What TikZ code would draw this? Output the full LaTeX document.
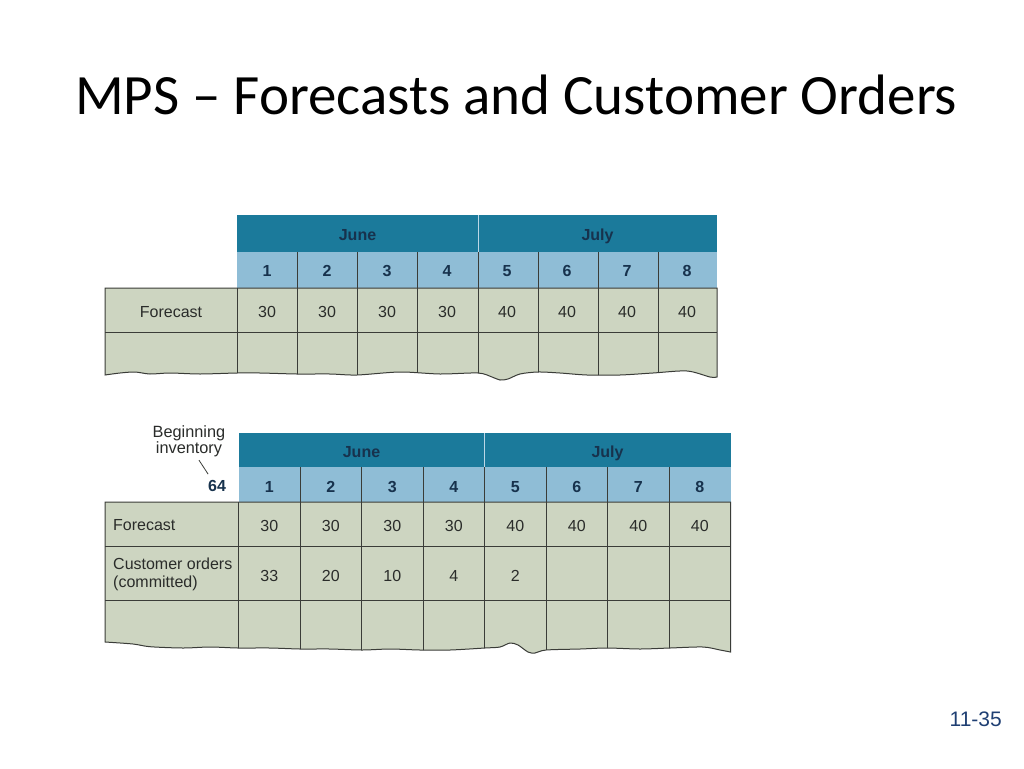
\documentclass[tikz,border=0pt]{standalone}
\usepackage{fontspec}
\setmainfont{Carlito}
\newfontfamily\tabfont{Liberation Sans}
\usepackage{tikz}
\usetikzlibrary{positioning,calc}
\definecolor{monthblue}{HTML}{1B7A9B}
\definecolor{weekblue}{HTML}{8FBDD6}
\definecolor{bodygreen}{HTML}{CDD5C1}
\definecolor{gridgrey}{HTML}{3A3C38}
\definecolor{headtext}{HTML}{17324D}
\definecolor{celltext}{HTML}{2A2C2A}
\definecolor{slideblue}{HTML}{1F3F73}
\tikzstyle{title} = [inner sep=0pt, font=\fontsize{57}{64}\selectfont, text=black]
\tikzstyle{cell} = [inner sep=0pt, text height=11.5pt, text depth=0pt, font=\tabfont\fontsize{16}{18}\selectfont, text=celltext]
\tikzstyle{head cell} = [cell, font=\tabfont\bfseries\fontsize{16}{18}\selectfont, text=headtext]
\tikzstyle{row label} = [inner sep=0pt, anchor=west, align=left, text=celltext, font=\tabfont\fontsize{16}{17.5}\selectfont]
\tikzstyle{grid} = [draw=gridgrey, line width=1pt]
\tikzstyle{leader} = [draw=gridgrey, line width=0.8pt]
\tikzstyle{pagenum} = [inner sep=0pt, font=\tabfont\fontsize{21}{24}\selectfont, text=slideblue]
% torn lower edges of the two sheets
\tikzset{tornA/.style={insert path={-- plot[smooth] coordinates {(717,377) (710,377) (687,371) (653,373) (620,375) (587,375) (560,373) (538,372) (520,374) (508,379) (500,380) (492,377) (478,373) (440,374) (400,372) (357,375) (330,374) (297,374) (260,373) (237,373) (200,374) (170,373) (150,374) (135,372) (120,373) (105,375)}}}}
\tikzset{tornB/.style={insert path={-- plot[smooth] coordinates {(730.5,652) (720,650) (703,647) (670,648) (640,649) (607,648) (580,649) (546,650) (535,653) (528,652) (518,645) (510,643) (500,647) (485,648) (450,650) (420,650) (390,649) (362,650) (330,649) (300,649) (270,648) (238,648) (210,647) (183,648) (150,646.7) (133,644) (105,642)}}}}
\begin{document}
\begin{tikzpicture}[x=1pt, y=-1pt]
	\useasboundingbox[fill=white] (0,0) rectangle (1024,768);
	\node[title, anchor=base west] (heading) at (75,114) {MPS – Forecasts and Customer Orders};

	% forecast only
	\fill[monthblue] (237,215) rectangle (717,252);
	\fill[weekblue] (237,252) rectangle (717,288);
	\fill[bodygreen] (105,288) -- (717,288) [tornA] -- cycle;
	\draw[weekblue!60!white, line width=1pt] (478,215) -- (478,252);
	\foreach \x in {297,357,417,478,538,598,658} \draw[grid] (\x,252) -- (\x,288);
	\begin{scope}
		\clip (105,288) -- (717,288) [tornA] -- cycle;
		\foreach \x in {237,297,357,417,478,538,598,658} \draw[grid] (\x,288) -- (\x,390);
		\draw[grid] (105,332) -- (717,332);
	\end{scope}
	\draw[grid] (105,288) -- (717,288) [tornA] -- cycle;
	\node[head cell] (juneA) at (357.5,234.5) {June};
	\node[head cell] (julyA) at (597.5,234.5) {July};
	\node[cell] (fcA) at (171,311.5) {Forecast};
	\foreach \v [count=\i] in {30,30,30,30,40,40,40,40} {
		\node[head cell] (wkA-\i) at ({237+60*(\i-0.5)},270.5) {\i};
		\node[cell] (fcA-\i) at ({237+60*(\i-0.5)},311.5) {\v};
	}

	% forecast and customer orders
	\fill[monthblue] (238.5,433) rectangle (730.5,467);
	\fill[weekblue] (238.5,467) rectangle (730.5,502);
	\fill[bodygreen] (105,502) -- (730.5,502) [tornB] -- cycle;
	\draw[weekblue!60!white, line width=1pt] (484.5,433) -- (484.5,467);
	\foreach \x in {300,361.5,423,484.5,546,607.5,669} \draw[grid] (\x,467) -- (\x,502);
	\begin{scope}
		\clip (105,502) -- (730.5,502) [tornB] -- cycle;
		\foreach \x in {238.5,300,361.5,423,484.5,546,607.5,669} \draw[grid] (\x,502) -- (\x,665);
		\draw[grid] (105,546) -- (730.5,546);
		\draw[grid] (105,600) -- (730.5,600);
	\end{scope}
	\draw[grid] (105,502) -- (730.5,502) [tornB] -- cycle;
	\node[head cell] (juneB) at (361.5,452) {June};
	\node[head cell] (julyB) at (607.5,452) {July};
	\node[row label] (fcB) at (113,525.5) {Forecast};
	\node[row label] (coB) at (113,574.5) {Customer orders\\(committed)};
	\foreach \v [count=\i] in {30,30,30,30,40,40,40,40} {
		\node[head cell] (wkB-\i) at ({238.5+61.5*(\i-0.5)},486.5) {\i};
		\node[cell] (fcB-\i) at ({238.5+61.5*(\i-0.5)},525.5) {\v};
	}
	\foreach \v [count=\i] in {33,20,10,4,2}
		\node[cell] (coB-\i) at ({238.5+61.5*(\i-0.5)},575.5) {\v};

	\node[inner sep=0pt, align=center, text=celltext, font=\tabfont\fontsize{16.3}{14}\selectfont] (beginv) at (189,441) {Beginning\\inventory};
	\node[head cell, anchor=base] (inv) at (217,491) {64};
	\draw[leader] ([shift={(10pt,-3.3pt)}]beginv.south) -- ([shift={(0.2pt,5.2pt)}]inv.north west);

	\node[pagenum, anchor=base east] (slide) at (1002,726) {11-35};
\end{tikzpicture}
\end{document}
